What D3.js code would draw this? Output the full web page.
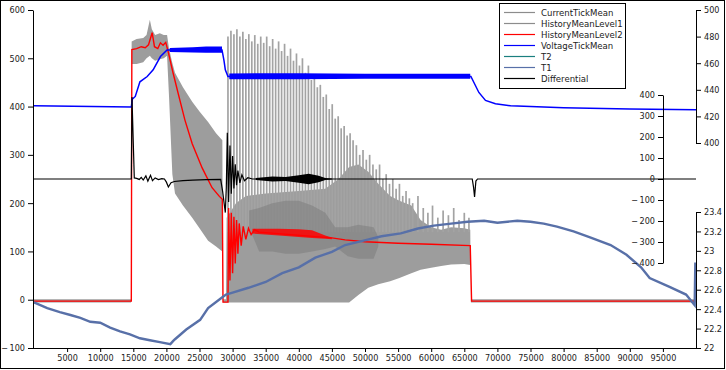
<!DOCTYPE html>
<html>
<head>
<meta charset="utf-8">
<script src="https://cdn.jsdelivr.net/npm/d3@7"></script>
<style>
  body { margin: 0; background: #fff; }
  svg { display: block; }
  text { font-family: "DejaVu Sans Condensed", "DejaVu Sans", sans-serif; font-stretch: condensed; }
</style>
</head>
<body>
<div id="chart"></div>
<script>
// CurrentTickMean envelope (low / high)
const currentX    = [0, 14650, 14750, 15500, 16500, 17000, 17500, 17800, 18300, 19000, 19600, 20100, 20400, 20900, 21300, 22500, 23900, 25000, 26300, 27500, 28450, 28550, 29000, 29100, 30500, 32000, 35000, 40000, 44000, 46000, 47600, 49000, 50500, 52000, 53800, 55200, 57000, 58400, 60000, 61500, 63000, 65000, 65900, 66000, 100000];
const currentLow  = [-6, -6, 488, 488, 492, 500, 505, 500, 495, 498, 500, 505, 420, 260, 220, 195, 170, 148, 122, 110, 100, -6, -6, -6, -6, -6, -6, -6, -6, -6, -6, 10, 25, 32, 38, 45, 55, 62, 66, 70, 73, 74, 72, -6, -6];
const currentHigh = [1, 1, 535, 540, 542, 548, 580, 560, 548, 552, 548, 548, 520, 490, 470, 440, 410, 390, 368, 345, 330, 1, 1, 170, 200, 215, 220, 225, 230, 250, 275, 280, 265, 240, 215, 205, 195, 165, 150, 145, 150, 148, 145, 1, 1];

// CurrentTickMean oscillation peaks
const spikeX = [29300, 29750, 30200, 30650, 31100, 31550, 32000, 32450, 32900, 33350, 33800, 34250, 34700, 35150, 35600, 36050, 36500, 36950, 37400, 37850, 38300, 38750, 39200, 39650, 40100, 40550, 41000, 41450, 41900, 42350, 42800, 43250, 43700, 44150, 44600, 45050, 45500, 45950, 46400, 46850, 47300, 47750,
  48200, 48700, 49200, 49700, 50200, 50700, 51200, 51700, 52200, 52700, 53200, 53700, 54200, 54700, 55200, 55700, 56200, 56700, 57200, 58000, 58800, 59500, 60200, 61000, 61800, 62600, 63400, 64200, 65000, 65700];
const spikeTop = [545, 557, 550, 560, 545, 555, 540, 550, 535, 548, 530, 545, 532, 545, 525, 540, 520, 535, 515, 530, 505, 520, 495, 510, 485, 500, 470, 485, 455, 465, 440, 445, 420, 425, 395, 405, 375, 380, 355, 360, 340, 345,
  330, 320, 300, 310, 290, 300, 280, 270, 280, 250, 260, 240, 250, 230, 240, 215, 225, 210, 200, 215, 190, 180, 195, 170, 185, 175, 190, 165, 180, 170];

// HistoryMeanLevel1 envelope
const level1X    = [32500, 34000, 36000, 38000, 40000, 42000, 44000, 45500, 47400, 49000, 51300, 52000];
const level1Low  = [150, 100, 100, 95, 95, 100, 105, 110, 90, 85, 85, 110];
const level1High = [185, 190, 200, 205, 205, 195, 180, 150, 150, 155, 150, 130];

// HistoryMeanLevel2
const level2X = [0, 14700, 14780, 15500, 16200, 16800, 17300, 17850, 18200, 18700, 19100, 19500, 19900, 20300, 21000, 21800, 22800, 23900, 25400, 26900, 28000, 28450, 28550, 29300, 29400, 29600, 29800, 30000, 30200, 30400, 30600, 30800, 31000, 31300, 31600, 32000, 32400, 32800, 33300, 34000, 45000, 47000, 50000, 55000, 60000, 65900, 66100, 100000];
const level2Y = [-3, -3, 518, 520, 524, 522, 528, 553, 524, 520, 532, 527, 533, 512, 470, 426, 372, 323, 273, 232, 214, 208, -5, -5, 190, 40, 180, 55, 172, 75, 165, 95, 158, 112, 152, 125, 148, 135, 145, 140, 128, 124, 120, 117, 115, 112, -3, -3];
const level2NoiseX    = [33000, 37000, 40000, 42000, 44000, 45000];
const level2NoiseLow  = [137, 133, 130, 128, 126, 125];
const level2NoiseHigh = [147, 147, 146, 144, 133, 129];

// VoltageTickMean (right axis 400-500)
const voltX = [0, 14700, 14850, 15300, 16000, 17100, 18000, 19100, 20100, 20500, 28400, 28700, 28900, 29300, 66000, 67200, 68200, 69700, 72000, 80000, 90000, 100000];
const voltY = [428, 427, 433, 435, 446, 450, 455, 465, 470, 470, 470, 462, 455, 450, 450, 438, 432, 429.5, 428, 426.5, 425.5, 425];
const voltBandX    = [20500, 24000, 26000, 28400, null, 29500, 40000, 50000, 60000, 65900];
const voltBandLow  = [468.5, 468, 467.8, 467.8, null, 448, 448, 448.3, 448.3, 448.3];
const voltBandHigh = [471.5, 472, 472.5, 472.5, null, 452.3, 452.5, 452, 452, 452];

// T1 (right axis 22-23.4)
const t1X = [0, 2000, 3900, 5500, 7000, 8500, 10000, 11500, 13000, 14500, 16000, 17500, 19000, 20600, 21000, 21300, 23000, 25100, 26300, 28400, 29000, 30000, 32400, 35000, 37500, 40000, 42500, 45000, 47000, 50100, 52500, 55400, 58000, 60400, 63000, 65500, 68000, 70000, 73000, 75000, 77000, 79000, 81500, 84000, 87100, 89500, 91700, 93000, 96000, 98500, 99800, 99900];
const t1Y = [22.47, 22.41, 22.37, 22.34, 22.31, 22.27, 22.26, 22.21, 22.17, 22.14, 22.10, 22.08, 22.06, 22.04, 22.07, 22.09, 22.19, 22.29, 22.41, 22.52, 22.55, 22.57, 22.62, 22.68, 22.77, 22.83, 22.93, 22.99, 23.06, 23.11, 23.15, 23.18, 23.23, 23.26, 23.28, 23.30, 23.31, 23.29, 23.31, 23.30, 23.28, 23.25, 23.20, 23.14, 23.06, 22.96, 22.83, 22.72, 22.63, 22.55, 22.44, 22.88];
const t2X = [];
const t2Y = [];

// Differential (middle axis -400..400)
const diffX = [0, 14700, 14800, 15150, 15500, 15900, 16200, 16500, 16900, 17200, 17600, 17900, 18300, 18800, 19300, 19700, 20000, 20300, 20700, 21200, 22500, 24000, 26000, 28200, 28500, 28900, 29050, 29200, 29400, 29600, 29800, 30000, 30200, 30400, 30600, 30800, 31100, 31400, 31800, 32300, 33000, 66200, 66400, 66550, 66750, 67000, 100000];
const diffY = [0, 0, 390, 5, 3, -2, 8, -5, 15, -10, 18, -8, 5, -3, 2, 0, -15, -38, -18, -12, -8, -5, -3, -2, -60, -160, -40, 220, -110, 160, -70, 110, -45, 70, -30, 40, -18, 20, -8, 6, 0, 0, -40, -85, -10, 0, 0];
const diffNoiseX    = [33500, 36000, 38000, 40000, 41500, 43000, 44000, 45000];
const diffNoiseLow  = [-5, -12, -10, -18, -25, -15, -5, -2];
const diffNoiseHigh = [5, 12, 10, 18, 25, 15, 5, 2];

const leftTicks = [-100, 0, 100, 200, 300, 400, 500, 600];
const bottomTicks = [5000, 10000, 15000, 20000, 25000, 30000, 35000, 40000, 45000, 50000, 55000, 60000, 65000, 70000, 75000, 80000, 85000, 90000, 95000];
const voltTicks = [400, 420, 440, 460, 480, 500];
const diffTicks = [-400, -300, -200, -100, 0, 100, 200, 300, 400];
const tempTicks = [22, 22.2, 22.4, 22.6, 22.8, 23, 23.2, 23.4];

const legendItems = [
  { name: "CurrentTickMean", color: "#8c8c8c" },
  { name: "HistoryMeanLevel1", color: "#8c8c8c" },
  { name: "HistoryMeanLevel2", color: "#ff0000" },
  { name: "VoltageTickMean", color: "#0000ff" },
  { name: "T2", color: "#1a7f7f" },
  { name: "T1", color: "#5870a8" },
  { name: "Differential", color: "#000000" }
];

const width = 726, height = 370;

const svg = d3.select("#chart").append("svg")
  .attr("width", width)
  .attr("height", height);

svg.append("rect")
  .attr("x", 0.5).attr("y", 0.5)
  .attr("width", 724).attr("height", 368)
  .attr("fill", "#fff").attr("stroke", "#000");

const x = d3.scaleLinear().domain([0, 100000]).range([34, 696]);
const yL = d3.scaleLinear().domain([-100, 600]).range([348, 10]);
const yV = d3.scaleLinear().domain([400, 500]).range([143, 10]);
const yD = d3.scaleLinear().domain([-400, 400]).range([263, 95]);
const yT = d3.scaleLinear().domain([22, 23.4]).range([348, 212]);

const zip = (xs, a, b) => xs.map((v, i) => ({ x: v, lo: a[i], hi: b ? b[i] : null }));

const band = (ys) => d3.area()
  .defined(d => d.x != null)
  .x(d => x(d.x))
  .y0(d => ys(d.lo))
  .y1(d => ys(d.hi));

const line = (ys) => d3.line()
  .x(d => x(d.x))
  .y(d => ys(d.lo));

// CurrentTickMean
svg.append("path")
  .datum(zip(currentX, currentLow, currentHigh))
  .attr("d", band(yL))
  .attr("fill", "#9d9d9d");

svg.append("g").selectAll("line")
  .data(zip(spikeX, spikeTop))
  .join("line")
  .attr("x1", d => x(d.x)).attr("x2", d => x(d.x))
  .attr("y1", yL(140)).attr("y2", d => yL(d.lo))
  .attr("stroke", "#a3a3a3")
  .attr("stroke-width", 1.7);

// HistoryMeanLevel1
svg.append("path")
  .datum(zip(level1X, level1Low, level1High))
  .attr("d", band(yL))
  .attr("fill", "#7a7a7a")
  .attr("opacity", 0.5);

// HistoryMeanLevel2
svg.append("path")
  .datum(zip(level2NoiseX, level2NoiseLow, level2NoiseHigh))
  .attr("d", band(yL))
  .attr("fill", "#ff0000")
  .attr("opacity", 0.85);

svg.append("path")
  .datum(zip(level2X, level2Y))
  .attr("d", line(yL))
  .attr("fill", "none")
  .attr("stroke", "#ff0000")
  .attr("stroke-width", 1.4);

// T2 / T1
svg.append("path")
  .datum(zip(t2X, t2Y))
  .attr("d", line(yT))
  .attr("fill", "none")
  .attr("stroke", "#1a7f7f")
  .attr("stroke-width", 1.5);

svg.append("path")
  .datum(zip(t1X, t1Y))
  .attr("d", line(yT))
  .attr("fill", "none")
  .attr("stroke", "#5870a8")
  .attr("stroke-width", 2.4);

// VoltageTickMean
svg.append("path")
  .datum(zip(voltBandX, voltBandLow, voltBandHigh))
  .attr("d", band(yV))
  .attr("fill", "#0000ff");

svg.append("path")
  .datum(zip(voltX, voltY))
  .attr("d", line(yV))
  .attr("fill", "none")
  .attr("stroke", "#0000ff")
  .attr("stroke-width", 1.5);

// Differential
svg.append("path")
  .datum(zip(diffNoiseX, diffNoiseLow, diffNoiseHigh))
  .attr("d", band(yD))
  .attr("fill", "#000");

svg.append("path")
  .datum(zip(diffX, diffY))
  .attr("d", line(yD))
  .attr("fill", "none")
  .attr("stroke", "#000")
  .attr("stroke-width", 1.2);

// axes
const minus = d => d < 0 ? "\u2212\u2009" + Math.abs(d) : String(d);

function styleAxis(g) {
  g.selectAll("text")
    .attr("font-size", 9)
    .attr("fill", "#222")
    .style("font-family", "'DejaVu Sans Condensed', 'DejaVu Sans', sans-serif")
    .style("font-stretch", "condensed");
  g.selectAll("line, path").attr("stroke", "#000");
}

svg.append("g")
  .attr("transform", "translate(33,0)")
  .call(d3.axisLeft(yL).tickValues(leftTicks).tickFormat(minus).tickSize(5).tickSizeOuter(0).tickPadding(3))
  .call(styleAxis);

svg.append("g")
  .attr("transform", "translate(0,348)")
  .call(d3.axisBottom(x).tickValues(bottomTicks).tickFormat(d3.format("d")).tickSize(4).tickSizeOuter(0).tickPadding(3))
  .call(styleAxis)
  .call(g => g.select(".domain").attr("d", "M33,0.5H696"));

svg.append("g")
  .attr("transform", "translate(663,0)")
  .call(d3.axisLeft(yD).tickValues(diffTicks).tickFormat(minus).tickSize(5).tickSizeOuter(0).tickPadding(3))
  .call(styleAxis);

svg.append("g")
  .attr("transform", "translate(696,0)")
  .call(d3.axisRight(yV).tickValues(voltTicks).tickSize(5).tickSizeOuter(0).tickPadding(3))
  .call(styleAxis);

svg.append("g")
  .attr("transform", "translate(696,0)")
  .call(d3.axisRight(yT).tickValues(tempTicks).tickFormat(d => String(+d.toFixed(1))).tickSize(5).tickSizeOuter(0).tickPadding(3))
  .call(styleAxis);

// legend
const legend = svg.append("g").attr("transform", "translate(499.5,3.5)");
legend.append("rect")
  .attr("width", 126).attr("height", 85)
  .attr("fill", "#fff").attr("stroke", "#000");

const rows = legend.selectAll("g.item")
  .data(legendItems)
  .join("g")
  .attr("class", "item")
  .attr("transform", (d, i) => `translate(0,${9 + i * 11})`);

rows.append("line")
  .attr("x1", 4.5).attr("x2", 35.5)
  .attr("stroke", d => d.color)
  .attr("stroke-width", 1.2);

rows.append("text")
  .attr("x", 41.5)
  .attr("dy", "0.35em")
  .attr("font-size", 9.5)
  .attr("fill", "#222")
  .text(d => d.name);
</script>
</body>
</html>
